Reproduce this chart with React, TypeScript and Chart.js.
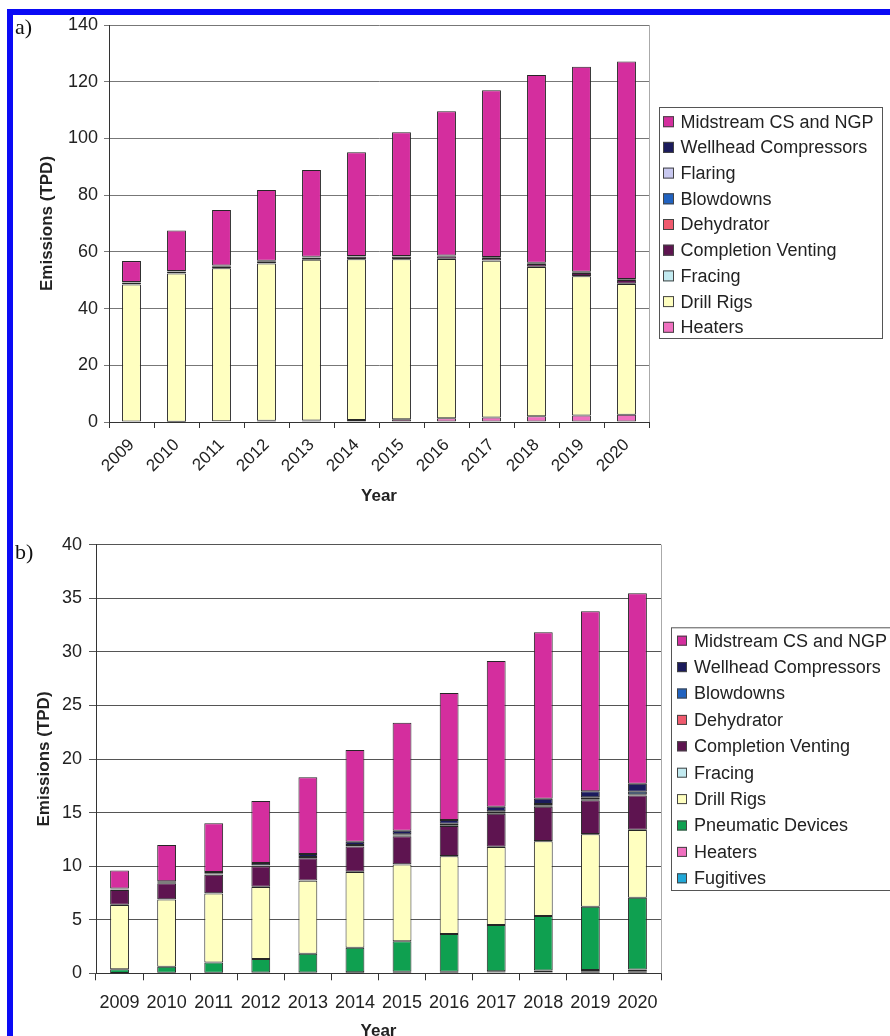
import React, { useEffect, useRef } from "react";
import { Chart, registerables } from "chart.js";

Chart.register(...registerables);
Chart.defaults.font.family = '"Liberation Sans", Arial, sans-serif';
Chart.defaults.color = "#222";

// ---------- data ----------
const years = ["2009", "2010", "2011", "2012", "2013", "2014", "2015", "2016", "2017", "2018", "2019", "2020"];

// Panel a (bottom to top)
const heatersA = [0, 0.1, 0.3, 0.4, 0.5, 0.7, 1.0, 1.3, 1.6, 2.0, 2.3, 2.6];
const drillRigsA = [48.5, 52.3, 53.9, 55.5, 56.7, 56.7, 56.4, 56.2, 55.3, 52.7, 49.1, 46.1];
const fracingA = [0.05, 0.05, 0.05, 0.05, 0.05, 0.05, 0.05, 0.05, 0.05, 0.05, 0.05, 0.05];
const completionVentingA = [0.6, 0.6, 0.7, 0.7, 0.7, 0.8, 0.8, 0.9, 0.9, 1.0, 1.1, 1.3];
const dehydratorA = [0.02, 0.02, 0.02, 0.02, 0.02, 0.02, 0.02, 0.02, 0.02, 0.02, 0.02, 0.02];
const blowdownsA = [0.05, 0.05, 0.05, 0.05, 0.05, 0.05, 0.05, 0.05, 0.05, 0.05, 0.05, 0.05];
const flaringA = [0.03, 0.03, 0.03, 0.03, 0.03, 0.03, 0.03, 0.03, 0.03, 0.03, 0.03, 0.03];
const wellheadA = [0.1, 0.1, 0.1, 0.1, 0.2, 0.2, 0.2, 0.2, 0.2, 0.3, 0.3, 0.3];
const midstreamA = [7.4, 14.3, 19.6, 25.0, 30.6, 36.6, 43.6, 50.8, 58.8, 66.2, 72.3, 76.7];

// Panel b (bottom to top)
const fugitivesB = [0.02, 0.02, 0.02, 0.03, 0.03, 0.03, 0.05, 0.05, 0.08, 0.1, 0.15, 0.2];
const heatersB = [0, 0.02, 0.03, 0.05, 0.05, 0.06, 0.1, 0.1, 0.12, 0.15, 0.15, 0.15];
const pneumaticB = [0.35, 0.56, 0.95, 1.26, 1.75, 2.3, 2.85, 3.52, 4.3, 5.1, 5.9, 6.7];
const drillRigsB = [6.0, 6.28, 6.44, 6.72, 6.8, 7.07, 7.15, 7.25, 7.29, 6.97, 6.78, 6.33];
const fracingB = [0.02, 0.02, 0.02, 0.02, 0.02, 0.02, 0.02, 0.02, 0.02, 0.02, 0.02, 0.02];
const completionVentingB = [1.38, 1.5, 1.74, 1.92, 2.08, 2.35, 2.63, 2.81, 3.08, 3.21, 3.15, 3.2];
const dehydratorB = [0.02, 0.02, 0.03, 0.03, 0.04, 0.05, 0.05, 0.06, 0.07, 0.08, 0.09, 0.1];
const blowdownsB = [0.03, 0.04, 0.05, 0.06, 0.08, 0.1, 0.12, 0.14, 0.16, 0.18, 0.2, 0.25];
const wellheadB = [0.1, 0.14, 0.17, 0.21, 0.28, 0.3, 0.33, 0.35, 0.42, 0.49, 0.56, 0.75];
const midstreamB = [1.68, 3.37, 4.55, 5.78, 7.17, 8.55, 10.08, 11.85, 13.6, 15.54, 16.8, 17.77];

const yTicksA = [0, 20, 40, 60, 80, 100, 120, 140];
const yTicksB = [0, 5, 10, 15, 20, 25, 30, 35, 40];

// ---------- colours ----------
const C = {
  midstream: "#D42E9E",
  wellhead: "#1B1B5C",
  flaring: "#C8C8F0",
  blowdowns: "#2062C0",
  dehydrator: "#F05A6E",
  completion: "#5E1450",
  fracing: "#C2EAF0",
  drill: "#FFFFC0",
  pneumatic: "#0FA050",
  heaters: "#F070C0",
  fugitives: "#20A8D8",
};

const ds = (label: string, data: number[], color: string, barPct: number) => ({
  label,
  data,
  backgroundColor: color,
  borderColor: "#262626",
  borderWidth: 1,
  borderSkipped: false,
  barPercentage: barPct,
  categoryPercentage: 1,
});

const boxLegend = {
  id: "boxLegend",
  afterDraw(chart: any, _a: any, o: any) {
    const ctx = chart.ctx as CanvasRenderingContext2D;
    ctx.save();
    // plot right border
    const ca = chart.chartArea;
    ctx.strokeStyle = "#aaa";
    ctx.lineWidth = 1;
    ctx.beginPath();
    ctx.moveTo(Math.round(ca.right) + 0.5, ca.top);
    ctx.lineTo(Math.round(ca.right) + 0.5, ca.bottom);
    ctx.stroke();
    // legend box
    ctx.strokeStyle = "#555";
    ctx.strokeRect(o.x + 0.5, o.y + 0.5, o.w, o.h);
    ctx.font = o.font;
    ctx.textBaseline = "middle";
    const list = chart.data.datasets;
    for (let i = list.length - 1, k = 0; i >= 0; i--, k++) {
      const cy = o.first + k * o.step;
      ctx.fillStyle = list[i].backgroundColor;
      ctx.fillRect(o.boxX, cy - o.box / 2, o.box, o.box);
      ctx.strokeStyle = "#444";
      ctx.strokeRect(o.boxX + 0.5, cy - o.box / 2 + 0.5, o.box - 1, o.box - 1);
      ctx.fillStyle = "#222";
      ctx.fillText(list[i].label, o.textX, cy + 1);
    }
    ctx.restore();
  },
};

function makeConfig(p: any): any {
  return {
    type: "bar",
    data: { labels: years, datasets: p.datasets },
    plugins: [boxLegend],
    options: {
      responsive: false,
      animation: false,
      devicePixelRatio: 1,
      layout: { padding: p.padding },
      plugins: {
        legend: { display: false },
        tooltip: { enabled: false },
        boxLegend: p.legend,
      },
      scales: {
        x: {
          stacked: true,
          grid: { offset: true, drawOnChartArea: false, drawTicks: true, tickLength: p.xTickLen, color: "#333" },
          border: { display: true, color: "#333" },
          ticks: {
            autoSkip: false,
            font: { size: p.xFont },
            color: "#222",
            minRotation: p.rot,
            maxRotation: p.rot,
            padding: p.xPad,
          },
          title: {
            display: true,
            text: "Year",
            font: { size: 17, weight: "bold" },
            color: "#222",
            padding: { top: 0, bottom: p.xTitlePad },
          },
          afterFit: (s: any) => {
            s.height = p.xHeight;
          },
        },
        y: {
          stacked: true,
          min: 0,
          max: p.yMax,
          afterBuildTicks: (s: any) => {
            s.ticks = p.yTicks.map((v: number) => ({ value: v }));
          },
          grid: { color: p.gridColor, tickLength: p.yTickLen, drawTicks: true },
          border: { display: true, color: "#333" },
          ticks: { font: { size: 18 }, color: "#222", padding: p.yPad },
          title: {
            display: true,
            text: "Emissions (TPD)",
            font: { size: 17, weight: "bold" },
            color: "#222",
            padding: { top: p.yTitlePad, bottom: 0 },
          },
          afterFit: (s: any) => {
            s.width = p.yWidth;
          },
        },
      },
    },
  };
}

const configA = () =>
  makeConfig({
    datasets: [
      ds("Heaters", heatersA, C.heaters, 0.42),
      ds("Drill Rigs", drillRigsA, C.drill, 0.42),
      ds("Fracing", fracingA, C.fracing, 0.42),
      ds("Completion Venting", completionVentingA, C.completion, 0.42),
      ds("Dehydrator", dehydratorA, C.dehydrator, 0.42),
      ds("Blowdowns", blowdownsA, C.blowdowns, 0.42),
      ds("Flaring", flaringA, C.flaring, 0.42),
      ds("Wellhead Compressors", wellheadA, C.wellhead, 0.42),
      ds("Midstream CS and NGP", midstreamA, C.midstream, 0.42),
    ],
    padding: { top: 25, right: 241, left: 0, bottom: 0 },
    xTickLen: 6,
    xFont: 17,
    rot: 45,
    xPad: 7,
    xTitlePad: 13,
    xHeight: 98,
    yMax: 140,
    yTicks: yTicksA,
    gridColor: "#777",
    yTickLen: 5,
    yPad: 6,
    yTitlePad: 37,
    yWidth: 109,
    legend: { x: 659, y: 107, w: 223, h: 231, first: 121.7, step: 25.7, box: 11, boxX: 663, textX: 680.5, font: '18px "Liberation Sans", Arial, sans-serif' },
  });

const configB = () =>
  makeConfig({
    datasets: [
      ds("Fugitives", fugitivesB, C.fugitives, 0.4),
      ds("Heaters", heatersB, C.heaters, 0.4),
      ds("Pneumatic Devices", pneumaticB, C.pneumatic, 0.4),
      ds("Drill Rigs", drillRigsB, C.drill, 0.4),
      ds("Fracing", fracingB, C.fracing, 0.4),
      ds("Completion Venting", completionVentingB, C.completion, 0.4),
      ds("Dehydrator", dehydratorB, C.dehydrator, 0.4),
      ds("Blowdowns", blowdownsB, C.blowdowns, 0.4),
      ds("Wellhead Compressors", wellheadB, C.wellhead, 0.4),
      ds("Midstream CS and NGP", midstreamB, C.midstream, 0.4),
    ],
    padding: { top: 19.7, right: 229, left: 0, bottom: 0 },
    xTickLen: 7,
    xFont: 18,
    rot: 0,
    xPad: 12,
    xTitlePad: 8,
    xHeight: 76.7,
    yMax: 40,
    yTicks: yTicksB,
    gridColor: "#555",
    yTickLen: 7,
    yPad: 7,
    yTitlePad: 34,
    yWidth: 96,
    legend: { x: 671, y: 102.3, w: 240, h: 262.7, first: 115.7, step: 26.4, box: 10, boxX: 677, textX: 694, font: '18px "Liberation Sans", Arial, sans-serif' },
  });

function Panel({ make, top, height }: { make: () => any; top: number; height: number }) {
  const ref = useRef<HTMLCanvasElement>(null);
  useEffect(() => {
    const chart = new Chart(ref.current as HTMLCanvasElement, make());
    return () => chart.destroy();
  }, []);
  return (
    <canvas
      ref={ref}
      width={890}
      height={height}
      style={{ position: "absolute", left: 0, top, width: 890, height }}
    />
  );
}

export default function App() {
  const label: React.CSSProperties = {
    position: "absolute",
    left: 15,
    fontFamily: '"Liberation Serif", "Times New Roman", serif',
    fontSize: 22,
    lineHeight: "22px",
    color: "#111",
  };
  return (
    <div
      style={{
        position: "absolute",
        left: 0,
        top: 0,
        width: 890,
        height: 1036,
        overflow: "hidden",
        background: "#fff",
      }}
    >
      <Panel make={configA} top={0} height={520} />
      <Panel make={configB} top={525} height={525} />
      <div style={{ position: "absolute", left: 7, top: 9, width: 883, height: 6, background: "#0a0af5" }} />
      <div style={{ position: "absolute", left: 7, top: 9, width: 6, height: 1027, background: "#0a0af5" }} />
      <div style={{ ...label, top: 16 }}>a)</div>
      <div style={{ ...label, top: 541 }}>b)</div>
    </div>
  );
}
